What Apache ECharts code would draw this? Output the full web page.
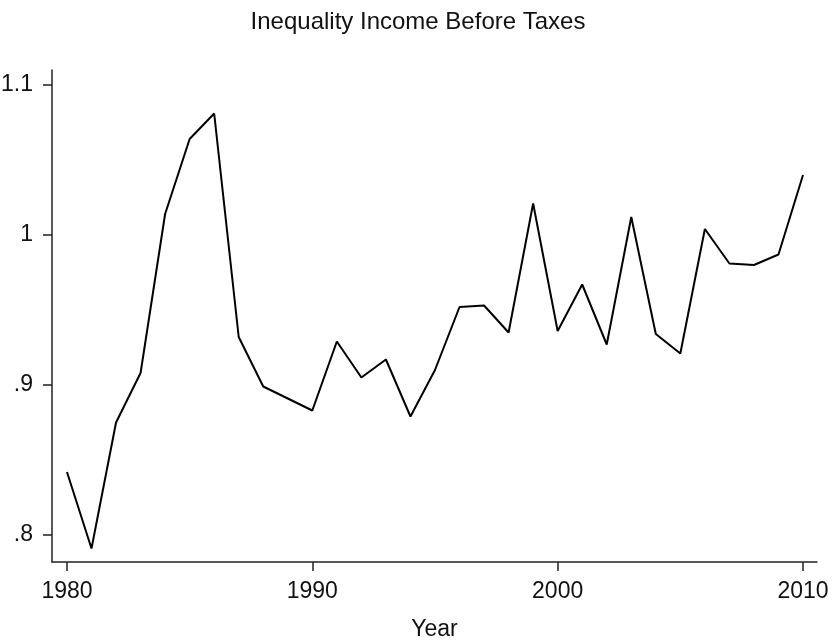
<!DOCTYPE html>
<html>
<head>
<meta charset="utf-8">
<script src="https://cdn.jsdelivr.net/npm/echarts@6/dist/echarts.min.js"></script>
<style>
  html, body { margin: 0; padding: 0; background: #fff; }
  #chart { width: 836px; height: 640px; }
</style>
</head>
<body>
<div id="chart"></div>
<script>
// Inequality of income before taxes, yearly index
const years = [1980, 1981, 1982, 1983, 1984, 1985, 1986, 1987, 1988, 1989,
               1990, 1991, 1992, 1993, 1994, 1995, 1996, 1997, 1998, 1999,
               2000, 2001, 2002, 2003, 2004, 2005, 2006, 2007, 2008, 2009, 2010];
const inequality = [0.842, 0.791, 0.875, 0.908, 1.014, 1.064, 1.081, 0.932, 0.899, 0.891,
                    0.883, 0.929, 0.905, 0.917, 0.879, 0.910, 0.952, 0.953, 0.935, 1.021,
                    0.936, 0.967, 0.927, 1.012, 0.934, 0.921, 1.004, 0.981, 0.980, 0.987, 1.040];
const xTicks = [1980, 1990, 2000, 2010];
const yTicks = [0.8, 0.9, 1.0, 1.1];
const yTickText = ['.8', '.9', '1', '1.1'];

const font = 'Liberation Sans, Arial, Helvetica, sans-serif';
const chart = echarts.init(document.getElementById('chart'), null, { renderer: 'canvas' });

chart.setOption({
  backgroundColor: '#ffffff',
  animation: false,
  title: {
    text: 'Inequality Income Before Taxes',
    left: 'center',
    top: 5,
    textStyle: { fontFamily: font, fontSize: 24, fontWeight: 'normal', color: '#111' }
  },
  grid: { left: 52, right: 19, top: 70, bottom: 78, containLabel: false, outerBoundsMode: 'none' },
  xAxis: {
    type: 'value',
    min: 1979.39,
    max: 2010.57,
    name: 'Year',
    nameLocation: 'middle',
    nameGap: 56,
    nameTextStyle: { fontFamily: font, fontSize: 23, color: '#111' },
    axisLine: { show: true, onZero: false, lineStyle: { color: '#222', width: 1.5 } },
    axisTick: { show: true, length: 9, customValues: xTicks, lineStyle: { color: '#222', width: 1.5 } },
    axisLabel: {
      customValues: xTicks,
      margin: 18,
      fontFamily: font,
      fontSize: 23,
      color: '#111',
      formatter: v => String(Math.round(v))
    },
    splitLine: { show: false }
  },
  yAxis: {
    type: 'value',
    min: 0.782,
    max: 1.11,
    axisLine: { show: true, lineStyle: { color: '#222', width: 1.5 } },
    axisTick: { show: true, length: 9, customValues: yTicks, lineStyle: { color: '#222', width: 1.5 } },
    axisLabel: {
      customValues: yTicks,
      margin: 19,
      fontFamily: font,
      fontSize: 23,
      color: '#111',
      formatter: v => {
        const i = yTicks.findIndex(t => Math.abs(t - v) < 1e-6);
        return i >= 0 ? yTickText[i] : '';
      }
    },
    splitLine: { show: false }
  },
  series: [{
    type: 'line',
    data: years.map((y, i) => [y, inequality[i]]),
    showSymbol: false,
    lineStyle: { color: '#000', width: 2 },
    clip: false
  }]
});
</script>
</body>
</html>
